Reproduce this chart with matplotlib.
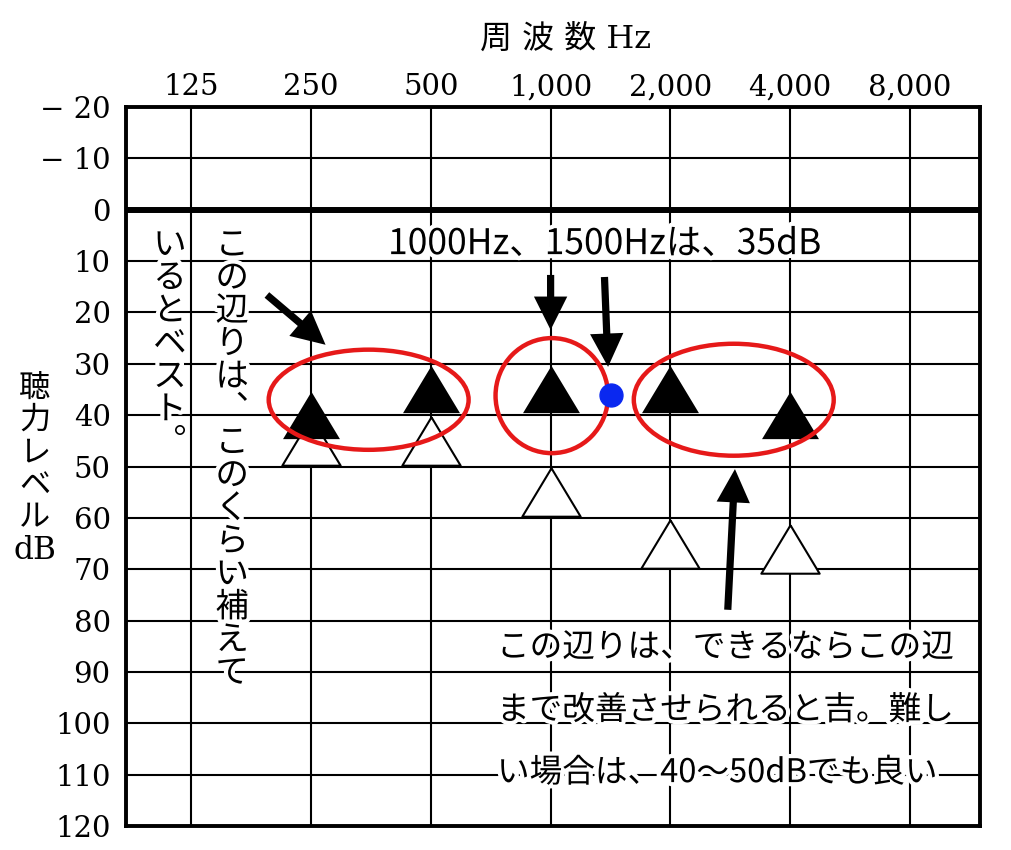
import numpy as np
import matplotlib
matplotlib.use("Agg")
import matplotlib.pyplot as plt
import matplotlib.patheffects as pe
from matplotlib.patches import Ellipse, FancyArrowPatch

plt.rcParams['font.family'] = ['Noto Sans CJK JP', 'DejaVu Sans']

# axis values
freqs = [125, 250, 500, 1000, 2000, 4000, 8000]
freq_labels = ['125', '250', '500', '1,000', '2,000', '4,000', '8,000']
db_ticks = list(range(-20, 121, 10))
db_labels = ['\u2212 20', '\u2212 10'] + [str(v) for v in range(0, 121, 10)]

# measured thresholds
test_freqs = [250, 500, 1000, 2000, 4000]
aided_db = [40, 35, 35, 35, 40]      # filled triangles
unaided_db = [45, 45, 55, 65, 66]    # open triangles
point_freq = 1420                    # blue dot
point_db = 36

serif = ['DejaVu Serif', 'Noto Sans CJK JP']
halo = [pe.withStroke(linewidth=6, foreground='white')]


def octave(f):
    return np.log2(np.asarray(f, dtype=float) / 125.0)


def vtext(ax, x, y0, s, step, size):
    # stack characters top to bottom (vertical writing)
    for i, ch in enumerate(s):
        ch = {'、': '\ufe11', '。': '\ufe12'}.get(ch, ch)
        ax.text(x, y0 + i * step, ch, ha='center', va='center', fontsize=size,
                path_effects=halo, zorder=3)


fig = plt.figure(figsize=(10.12, 8.5), dpi=100)
ax = fig.add_axes([126 / 1012, 1 - 826 / 850, 854 / 1012, 719 / 850])
ax.set_xlim(-0.547, 6.587)
ax.set_ylim(120, -20)

ax.xaxis.tick_top()
ax.set_xticks(octave(freqs))
ax.set_xticklabels(freq_labels, family=serif, fontsize=21)
ax.set_yticks(db_ticks)
ax.set_yticklabels(db_labels, family=serif, fontsize=21)
ax.tick_params(axis='x', length=0, pad=4)
ax.tick_params(axis='y', length=0, pad=11)
ax.grid(True, color='black', lw=1.5, zorder=0.5)
ax.set_axisbelow(True)
ax.axhline(0, color='black', lw=4.3, zorder=1)
for sp in ax.spines.values():
    sp.set_linewidth(2.8)

# titles
fig.text(0.559, 1 - 39 / 850, '周 波 数 Hz', family=serif, fontsize=23,
         ha='center', va='center')
ylab = ['聴', '力', 'レ', 'ベ', 'ル', 'dB']
for i, ch in enumerate(ylab):
    fig.text(35 / 1012, 1 - (388 + i * 32.5) / 850, ch, family=serif, fontsize=22.5,
             ha='center', va='center')

# triangles
tri = [(0, 0.83), (-1, -0.83), (1, -0.83), (0, 0.83)]
ax.plot(octave(test_freqs), unaided_db, ls='none', marker=tri, markersize=42,
        markerfacecolor='white', markeredgecolor='black', markeredgewidth=1.5, zorder=4)
ax.plot(octave(test_freqs), aided_db, ls='none', marker=tri, markersize=41,
        markerfacecolor='black', markeredgewidth=0, zorder=4.5)
ax.plot(octave([point_freq]), [point_db], ls='none', marker='o', markersize=16.5,
        color='#0a28f0', zorder=6)

# red rings
rings = [(1.48, 37.0, 1.67, 19.5), (3.01, 36.2, 0.94, 22.4), (4.53, 37.0, 1.67, 21.8)]
for cx, cy, w, h in rings:
    ax.add_patch(Ellipse((cx, cy), w, h, fill=False, edgecolor='#e61919', lw=3.2, zorder=5))

# arrows
arrows = [((0.63, 16.6), (1.12, 26.3)),
          ((3.0, 12.7), (3.0, 23.4)),
          ((3.45, 13.1), (3.48, 30.6)),
          ((4.48, 77.9), (4.54, 50.5))]
for a, b in arrows:
    ax.add_patch(FancyArrowPatch(a, b, arrowstyle='simple,head_length=24,head_width=24,tail_width=5.2',
                                 mutation_scale=1, color='black', lw=0,
                                 shrinkA=0, shrinkB=0, zorder=6))

# notes
ax.text(1.642, 6.7, '1000Hz、1500Hzは、35dB', ha='left', va='center', fontsize=25.5,
        path_effects=halo, zorder=3)
vtext(ax, 0.34, 6.9, 'この辺りは、このくらい補えて', 6.41, 24)
vtext(ax, -0.18, 6.9, 'いるとベスト。', 6.41, 24)
notes = ['この辺りは、できるならこの辺',
         'まで改善させられると吉。難し',
         'い場合は、40〜50dBでも良い']
for i, line in enumerate(notes):
    ax.text(2.552, 85.3 + i * 12.2, line, ha='left', va='center', fontsize=23.5,
            path_effects=halo, zorder=3)

fig.savefig('out.png', dpi=100)
